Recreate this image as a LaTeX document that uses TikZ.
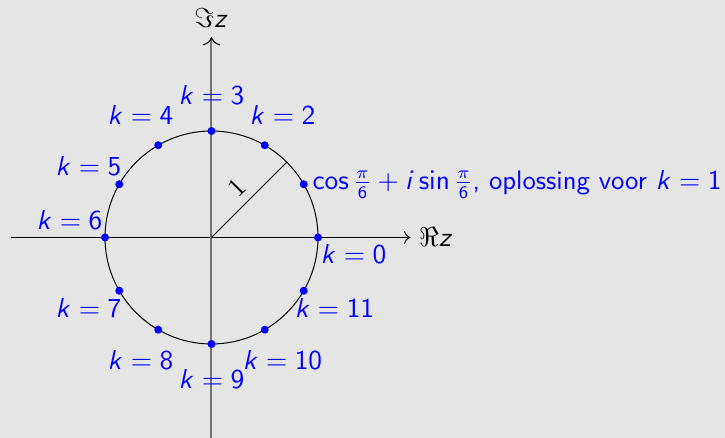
\documentclass[tikz,border=0pt]{standalone}
\usepackage{amsmath}
\usepackage{tikz}
\usetikzlibrary{positioning, arrows.meta, calc}
% schreefloze wiskunde
\DeclareSymbolFont{operators}{OT1}{cmss}{m}{n}
\DeclareSymbolFont{sfletters}{OT1}{cmss}{m}{sl}
\DeclareMathSymbol{k}{\mathalpha}{sfletters}{`k}
\DeclareMathSymbol{i}{\mathalpha}{sfletters}{`i}
\DeclareMathSymbol{z}{\mathalpha}{sfletters}{`z}

\begin{document}
\begin{tikzpicture}[line width=0.4pt, font=\sffamily\fontsize{10.7}{13}\selectfont,
    dot/.style={circle, fill=blue, inner sep=0pt, minimum size=3.2pt},
    lbl/.style={text=blue}]
\useasboundingbox[fill=black!10] (-2.979,-2.824) rectangle (7.233,3.345);

    % Assen
    \coordinate (o) at (0,0);
    \coordinate (xl) at (-2.82,0);
    \coordinate (xr) at (2.8,0);
    \coordinate (yb) at (0,-2.824);
    \coordinate (yt) at (0,2.824);
    \draw[-{To[line width=0.4pt]}] (xl) -- (xr) node[right] (re) {$\Re z$};
    \draw[draw=black!55, line width=0.8pt, -{To[color=black, line width=0.4pt]}] (yb) -- (yt) node[above] (im) {$\Im z$};

    % Eenheidscirkel en straal
    \draw (o) circle (1.5);
    \coordinate (r) at (45:1.5);
    \draw (o) -- (r) node[midway, above, sloped] (een) {\rmfamily 1};

    % Wortels
    \node[dot] (p0) at (0:1.5) {};
    \node[dot] (p1) at (30:1.5) {};
    \node[dot] (p2) at (60:1.5) {};
    \node[dot] (p3) at (90:1.5) {};
    \node[dot] (p4) at (120:1.5) {};
    \node[dot] (p5) at (150:1.5) {};
    \node[dot] (p6) at (180:1.5) {};
    \node[dot] (p7) at (210:1.5) {};
    \node[dot] (p8) at (240:1.5) {};
    \node[dot] (p9) at (270:1.5) {};
    \node[dot] (p10) at (300:1.5) {};
    \node[dot] (p11) at (330:1.5) {};

    % Labels
    \node[lbl] (l0) at (2,-0.23) {$k=0$};
    \node[lbl, anchor=west] (l1) at (p1.center) {$\cos\frac{\pi}{6}+i\sin\frac{\pi}{6}$, oplossing voor $k=1$};
    \node[lbl] (l2) at (60:2) {$k=2$};
    \node[lbl] (l3) at (90:2) {$k=3$};
    \node[lbl] (l4) at (120:2) {$k=4$};
    \node[lbl] (l5) at (150:2) {$k=5$};
    \node[lbl] (l6) at (-2,0.25) {$k=6$};
    \node[lbl] (l7) at (210:2) {$k=7$};
    \node[lbl] (l8) at (240:2) {$k=8$};
    \node[lbl] (l9) at (270:2) {$k=9$};
    \node[lbl] (l10) at (300:2) {$k=10$};
    \node[lbl] (l11) at (330:2) {$k=11$};

\end{tikzpicture}
\end{document}
